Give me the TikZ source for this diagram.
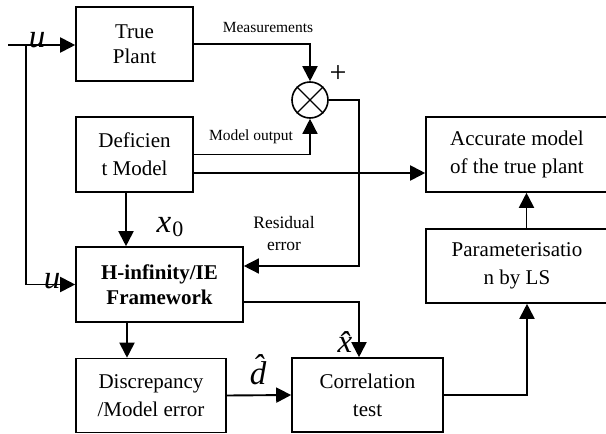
\documentclass[tikz,border=0pt]{standalone}
\usepackage{fontspec}
\setmainfont{Liberation Serif}
\usetikzlibrary{arrows.meta}
\begin{document}
\begin{tikzpicture}[x=1pt,y=-1pt,
  box/.style={draw,line width=1.6pt,inner sep=0pt,align=center,font=\fontsize{21}{28}\selectfont},
  conn/.style={line width=1.9pt},
  arr/.style={conn,-{Triangle[length=15pt,width=15pt]}},
  thinarr/.style={line width=1.4pt,-{Triangle[length=15pt,width=15pt]}},
  smalllab/.style={inner sep=0pt,font=\fontsize{15.5}{18}\selectfont},
  midlab/.style={inner sep=0pt,align=center,font=\fontsize{17.5}{22}\selectfont},
  mathlab/.style={inner sep=0pt,font=\fontsize{33}{33}\selectfont\itshape}]
\useasboundingbox (0,0) rectangle (606,434);

% boxes
\node[box,minimum width=117pt,minimum height=74pt,font=\fontsize{21}{25}\selectfont] (tp) at (134.5,44) {True\\Plant};
\node[box,minimum width=117pt,minimum height=75pt] (dm) at (134.5,154.5) {Deficien\\t Model};
\node[box,minimum width=167pt,minimum height=75pt,font=\fontsize{21}{25}\selectfont\bfseries] (hi) at (159.5,284.5) {H-infinity/IE\\Framework};
\node[box,minimum width=150pt,minimum height=74pt] (dc) at (151,395.5) {Discrepancy\\/Model error};
\node[box,minimum width=151pt,minimum height=74pt] (ct) at (367.5,395) {Correlation\\test};
\node[box,minimum width=182pt,minimum height=75pt] (am) at (517,154.5) {Accurate model\\of the true plant};
\node[box,minimum width=182pt,minimum height=74pt] (pb) at (517,266) {Parameterisatio\\n by LS};

% summing junction
\node[draw,circle,line width=1.6pt,minimum size=36pt,inner sep=0pt] (sum) at (310,100) {};
\draw[line width=1.3pt] (sum.north west) -- (sum.south east);
\draw[line width=1.3pt] (sum.north east) -- (sum.south west);

% coordinates
\coordinate (uin) at (8,45);
\coordinate (ubr) at (26,45);
\coordinate (ulow) at (26,284.5);
\coordinate (da) at (193,173);
\coordinate (dh) at (126,192);
\coordinate (rc) at (359,266);
\coordinate (hc) at (243,302);
\coordinate (hd) at (127,322);

% connectors
\draw[arr] (uin) -- (uin -| tp.west);
\draw[arr] (ubr) -- (ulow) -- (hi.west);
\draw[arr] (tp.east) -| (sum.north);
\draw[thinarr] (dm.east) -| (sum.south);
\draw[arr] (da) -- (da -| am.west);
\draw[arr] (dh) -- (dh |- hi.north);
\draw[thinarr] (sum.east) -| (rc) -- (rc -| hi.east);
\draw[arr] (hc) -| ([xshift=-8.5pt]ct.north);
\draw[arr] (hd) -- (hd |- dc.north);
\draw[arr] (dc.east) -- (ct.west);
\draw[arr] (ct.east) -| ([xshift=10pt]pb.south);
\draw[arr] ([xshift=9.5pt]pb.north) -- ([xshift=9.5pt]am.south);

% labels
\node[mathlab] (lu1) at (37,40) {u};
\node[mathlab] (lu2) at (52,281) {u};
\node[mathlab] (lx0) at (170,227) {x\kern1pt\raisebox{-4pt}{\fontsize{22}{22}\selectfont\upshape 0}};
\node[mathlab] (ldh) at (258,370) {\^{d}};
\node[mathlab] (lxh) at (345,342) {\^{x}};
\node[inner sep=0pt,font=\fontsize{30}{30}\selectfont] (lplus) at (338,74) {+};
\node[smalllab] (lmeas) at (268,27) {Measurements};
\node[smalllab] (lmod) at (251,137) {Model output};
\node[midlab] (lres) at (284,234) {Residual\\error};
\end{tikzpicture}
\end{document}
